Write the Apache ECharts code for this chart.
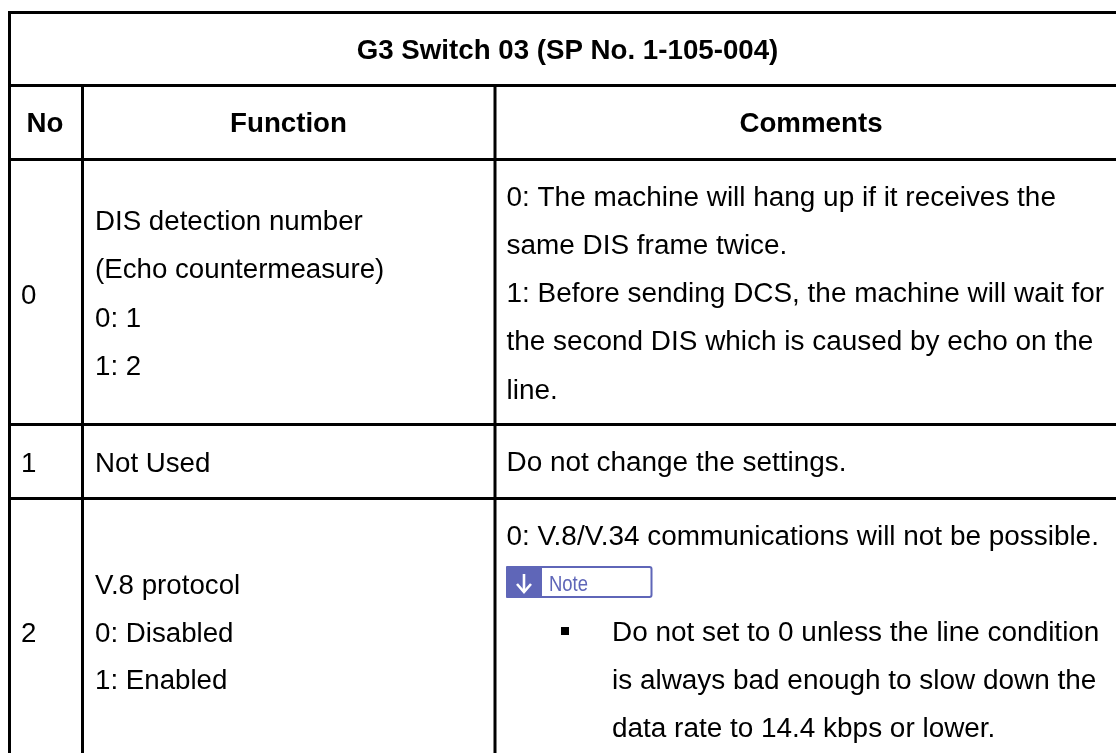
<!DOCTYPE html>
<html><head><meta charset="utf-8">
<style>html,body{margin:0;padding:0;background:#fff}#c{width:1116px;height:753px}</style>
<script src="https://cdn.jsdelivr.net/npm/echarts@6/dist/echarts.min.js"></script></head>
<body><div id="c"></div>
<script>
const hLines = [[8, 1116, 12.5], [8, 1116, 85.5], [8, 1116, 159.5], [8, 1116, 424.5], [8, 1116, 498.5]];
const vLines = [[9.5, 11, 753], [82.5, 86, 753], [495, 86, 753]];
const leftFont = 27.7, rightFont = 27.93;
const body = [
  ["G3 Switch 03 (SP No. 1-105-004)", 567.5, 51, true, 'center', leftFont],
  ["No", 45, 124, true, 'center', leftFont],
  ["Function", 288.5, 124, true, 'center', leftFont],
  ["Comments", 811, 124, true, 'center', leftFont],
  ["0", 21, 296, false, 'left', leftFont],
  ["1", 21, 464, false, 'left', leftFont],
  ["2", 21, 634, false, 'left', leftFont],
  ["DIS detection number", 95, 222, false, 'left', leftFont],
  ["(Echo countermeasure)", 95, 270, false, 'left', leftFont],
  ["0: 1", 95, 319, false, 'left', leftFont],
  ["1: 2", 95, 367, false, 'left', leftFont],
  ["Not Used", 95, 464, false, 'left', leftFont],
  ["V.8 protocol", 95, 586, false, 'left', leftFont],
  ["0: Disabled", 95, 634, false, 'left', leftFont],
  ["1: Enabled", 95, 681, false, 'left', leftFont],
  ["0: The machine will hang up if it receives the", 506.5, 198, false, 'left', rightFont],
  ["same DIS frame twice.", 506.5, 246, false, 'left', rightFont],
  ["1: Before sending DCS, the machine will wait for", 506.5, 294, false, 'left', rightFont],
  ["the second DIS which is caused by echo on the", 506.5, 342, false, 'left', rightFont],
  ["line.", 506.5, 391, false, 'left', rightFont],
  ["Do not change the settings.", 506.5, 463, false, 'left', rightFont],
  ["0: V.8/V.34 communications will not be possible.", 506.5, 537, false, 'left', rightFont],
  ["Do not set to 0 unless the line condition", 612, 633, false, 'left', rightFont],
  ["is always bad enough to slow down the", 612, 681, false, 'left', rightFont],
  ["data rate to 14.4 kbps or lower.", 612, 729, false, 'left', rightFont]
];
const g = [];
hLines.forEach(l => g.push({type:'line', shape:{x1:l[0],y1:l[2],x2:l[1],y2:l[2]}, style:{stroke:'#000',lineWidth:3}}));
vLines.forEach(l => g.push({type:'line', shape:{x1:l[0],y1:l[1],x2:l[0],y2:l[2]}, style:{stroke:'#000',lineWidth:3}}));
body.forEach(b => g.push({type:'text', x:b[1], y:b[2], style:{text:b[0], fill:'#000', font:(b[3]?'bold ':'')+b[5]+'px "Liberation Sans", Arial, sans-serif', textAlign:b[4], textVerticalAlign:'middle'}}));
g.push({type:'rect', shape:{x:561,y:627,width:8,height:8}, style:{fill:'#000'}});
g.push({type:'rect', shape:{x:507,y:567,width:144.5,height:30,r:2}, style:{fill:'#fff',stroke:'#5f66b8',lineWidth:2}});
g.push({type:'rect', shape:{x:506,y:566,width:36,height:32,r:1}, style:{fill:'#5f66b8'}});
g.push({type:'polyline', shape:{points:[[524,574],[524,592]]}, style:{stroke:'#fff',lineWidth:2.6,fill:null}});
g.push({type:'polyline', shape:{points:[[517,584],[524,592],[531,584]]}, style:{stroke:'#fff',lineWidth:2.6,fill:null}});
g.push({type:'text', x:549, y:585, scaleX:0.84, style:{text:'Note', fill:'#5f66b8', font:'22px "Liberation Sans", Arial, sans-serif', textVerticalAlign:'middle'}});
const chart = echarts.init(document.getElementById('c'), null, {renderer:'canvas'});
chart.setOption({animation:false, backgroundColor:'#fff', graphic:{elements:g}});
</script></body></html>
